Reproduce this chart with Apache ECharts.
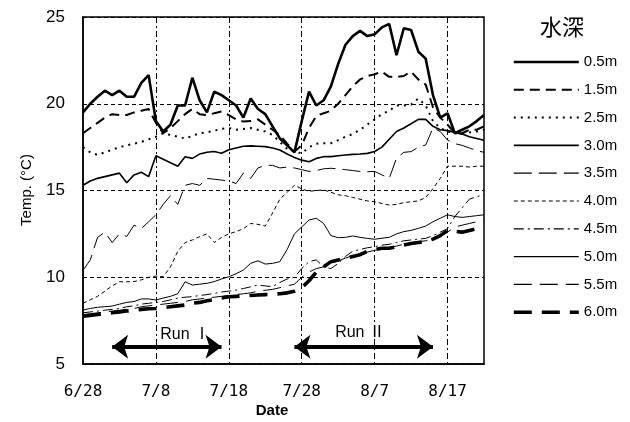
<!DOCTYPE html>
<html><head><meta charset="utf-8">
<script src="https://cdn.jsdelivr.net/npm/echarts@6/dist/echarts.min.js"></script>
<style>html,body{margin:0;padding:0;background:#fff}#c{width:630px;height:422px}</style>
</head><body><div id="c"></div>
<script>
var dates = ['6/28','6/29','6/30',
 '7/1','7/2','7/3','7/4','7/5','7/6','7/7','7/8','7/9','7/10','7/11','7/12','7/13','7/14','7/15','7/16',
 '7/17','7/18','7/19','7/20','7/21','7/22','7/23','7/24','7/25','7/26','7/27','7/28','7/29','7/30','7/31',
 '8/1','8/2','8/3','8/4','8/5','8/6','8/7','8/8','8/9','8/10','8/11','8/12','8/13','8/14','8/15','8/16',
 '8/17','8/18','8/19','8/20','8/21','8/22'];
var yTicks = [5, 10, 15, 20, 25];
var depthNames = ['0.5m','1.5m','2.5m','3.0m','3.5m','4.0m','4.5m','5.0m','5.5m','6.0m'];

var d05 = [19.5,20.0,20.4,20.75,20.5,20.75,20.4,20.4,21.2,21.65,
 19.0,18.4,18.8,19.9,19.9,21.5,20.2,19.5,20.7,20.5,
 20.2,19.9,19.2,20.3,19.7,19.4,18.7,18.0,17.6,17.2,
 19.0,20.7,19.9,20.2,21.0,22.3,23.4,23.9,24.2,23.9,
 24.0,24.4,24.6,22.8,24.35,24.25,23.0,22.6,20.5,19.2,
 19.45,18.3,18.5,18.7,19.0,19.35];
var d15 = [18.3,18.6,18.9,19.2,19.4,19.35,19.35,19.5,19.6,19.7,
 18.9,18.3,18.6,19.0,19.4,19.7,19.4,19.35,19.45,19.55,
 19.35,19.1,18.97,19.0,19.1,18.8,18.5,18.2,17.7,17.25,
 17.6,18.6,19.3,19.45,19.6,20.0,20.5,21.0,21.4,21.6,
 21.7,21.85,21.55,21.55,21.6,21.85,21.4,21.1,19.8,19.2,
 18.8,18.3,18.3,18.5,18.5,18.7];
var d25 = [17.5,17.2,17.05,17.2,17.35,17.5,17.6,17.7,17.8,17.95,
 18.1,18.3,18.2,18.1,18.0,18.15,18.3,18.35,18.45,18.55,
 18.6,18.5,18.55,18.6,18.5,18.4,18.2,17.8,17.4,17.24,
 17.14,17.5,17.7,17.72,17.72,17.9,18.1,18.25,18.5,18.8,
 19.1,19.4,19.6,19.9,19.9,19.95,20.3,19.9,19.0,18.6,
 18.4,18.3,18.3,18.35,18.4,18.5];
var d30 = [15.3,15.55,15.7,15.8,15.9,16.0,15.45,15.9,16.05,15.8,
 17.0,16.8,16.6,16.4,16.95,16.85,17.1,17.2,17.25,17.15,
 17.35,17.45,17.55,17.57,17.55,17.53,17.45,17.33,17.1,16.9,
 16.75,16.66,16.85,16.95,16.95,17.0,17.05,17.08,17.1,17.14,
 17.25,17.5,17.95,18.4,18.6,18.85,19.1,19.1,18.7,18.5,
 18.45,18.35,18.25,18.1,18.0,17.9];
var d35 = [10.4,11.0,12.3,12.6,12.0,12.5,12.35,13.0,12.8,13.2,
 13.6,14.2,14.7,14.2,15.3,15.4,15.3,15.7,15.65,15.6,
 15.55,15.4,16.0,15.7,16.3,16.45,16.45,16.3,16.35,16.3,
 16.2,16.1,16.15,16.25,16.28,16.25,16.2,16.15,16.1,16.08,
 16.1,15.9,15.7,16.86,17.2,17.24,17.5,17.62,18.6,18.4,
 17.9,17.7,17.6,17.45,17.3,17.2];
var d40 = [8.5,8.7,8.9,9.2,9.5,9.74,9.74,9.75,9.85,10.0,
 10.07,10.03,10.6,11.5,12.0,12.15,12.34,12.5,12.0,12.3,
 12.5,12.63,12.8,13.1,13.05,12.95,13.7,14.5,14.9,15.3,
 15.1,14.95,15.0,15.03,14.9,14.75,14.7,14.6,14.5,14.4,
 14.35,14.25,14.16,14.2,14.3,14.35,14.4,14.6,15.1,15.7,
 16.4,16.4,16.4,16.35,16.4,16.4];
var d45 = [7.95,8.0,8.05,8.1,8.15,8.2,8.3,8.35,8.45,8.5,
 8.55,8.6,8.7,8.8,8.85,8.88,8.95,9.0,9.07,9.15,
 9.2,9.26,9.35,9.45,9.55,9.5,9.46,9.7,9.9,10.0,
 10.5,10.9,11.0,10.6,10.5,10.8,11.2,11.5,11.6,11.7,
 11.76,11.85,11.9,12.0,12.1,12.15,12.2,12.24,12.4,12.6,
 12.8,13.5,14.0,14.5,14.65,14.75];
var d50 = [8.11,8.2,8.27,8.3,8.34,8.45,8.55,8.6,8.75,8.75,
 8.69,8.8,8.9,9.05,9.74,9.55,9.6,9.65,9.75,9.9,
 10.03,10.2,10.42,10.8,10.95,10.76,10.8,10.9,11.6,12.5,
 12.9,13.3,13.4,13.1,12.4,12.28,12.3,12.38,12.3,12.24,
 12.19,12.25,12.3,12.5,12.63,12.7,12.82,12.95,13.2,13.4,
 13.6,13.5,13.45,13.5,13.55,13.6];
var d55 = [7.85,7.9,7.95,8.0,8.05,8.1,8.15,8.2,8.3,8.35,
 8.4,8.45,8.5,8.55,8.6,8.7,8.75,8.8,8.85,8.9,
 8.95,9.0,9.05,9.1,9.2,9.25,9.3,9.4,9.5,9.6,
 10.0,10.3,10.5,10.6,10.8,10.95,11.1,11.25,11.35,11.45,
 11.55,11.65,11.7,11.8,11.9,12.0,12.05,12.1,12.2,12.35,
 12.6,12.9,13.0,13.1,13.2,13.3];
var d60 = [7.75,7.8,7.85,7.9,7.95,8.0,8.05,8.1,8.15,8.18,
 8.2,8.25,8.3,8.35,8.4,8.5,8.55,8.65,8.7,8.8,
 8.88,8.9,8.92,8.95,8.98,9.0,9.02,9.05,9.1,9.2,
 9.4,9.8,10.3,10.6,10.9,11.0,11.1,11.2,11.3,11.5,
 11.6,11.67,11.67,11.75,11.85,11.95,12.0,12.05,12.2,12.4,
 12.7,12.65,12.6,12.7,12.8,12.92];

var runArrows = [['7/2','7/17',6.0],['7/27','8/15',6.0]];
var runLabels = [['7/12',6.72,'Run Ⅰ'],['8/5',6.82,'Run Ⅱ']];

var allData = [d05,d15,d25,d30,d35,d40,d45,d50,d55,d60];
var styles = [
 {width:2.6, type:'solid'},
 {width:2, type:[10,6]},
 {width:2, type:[2,5]},
 {width:1.6, type:'solid'},
 {width:1, type:[18,7]},
 {width:1, type:[4,3]},
 {width:1, type:[10,4,2,4]},
 {width:1, type:'solid'},
 {width:1, type:[18,8]},
 {width:3.6, type:[18,10]}
];

var series = allData.map(function(d,i){
  return {
    name: depthNames[i], type:'line', data:d, symbol:'none', showSymbol:false, smooth:false,
    lineStyle:{color:'#000', width:styles[i].width, type:styles[i].type},
    itemStyle:{color:'#000'}, z: 20 - i
  };
});
series[9].markLine = {
  silent:true, symbol:['arrow','arrow'], symbolSize:[18,16],
  lineStyle:{color:'#000', width:4, type:'solid'}, label:{show:false},
  data: runArrows.map(function(r){ return [{coord:[r[0],r[2]]},{coord:[r[1],r[2]]}]; })
};
series[9].markPoint = {
  silent:true, symbol:'circle', symbolSize:1, itemStyle:{color:'rgba(0,0,0,0)'},
  label:{show:true, position:'inside', color:'#000', fontSize:16, fontFamily:'Liberation Sans, Noto Sans CJK JP',
    formatter:function(p){return p.name;}},
  data: runLabels.map(function(r){ return {name:r[2], coord:[r[0],r[1]]}; })
};

var legendItems = depthNames.map(function(n,i){
  return {name:n, lineStyle:{width:Math.max(styles[i].width, 1.2), type:styles[i].type, color:'#000'}};
});

var chart = echarts.init(document.getElementById('c'), null, {renderer:'canvas'});
chart.setOption({
  animation:false,
  backgroundColor:'#fff',
  grid:{left:83, right:146, top:17, bottom:58, show:true, borderColor:'#000', borderWidth:1.5},
  xAxis:{type:'category', data:dates, boundaryGap:false,
    axisLine:{lineStyle:{color:'#000', width:1.5}}, axisTick:{show:false},
    axisLabel:{interval:9, color:'#000', fontSize:16, fontFamily:'DejaVu Sans Mono', margin:20},
    splitLine:{show:true, interval:function(i){return i%10===0 && i>0;}, lineStyle:{color:'#000', width:1, type:[6,3,2,3]}}
  },
  yAxis:{type:'value', min:yTicks[0], max:yTicks[yTicks.length-1], interval:5,
    axisLine:{show:true, lineStyle:{color:'#000', width:1.5}}, axisTick:{show:false},
    axisLabel:{color:'#000', fontSize:17, fontFamily:'Liberation Sans', margin:18},
    splitLine:{show:true, lineStyle:{color:'#000', width:1, type:[4,3]}}
  },
  legend:{orient:'vertical', left:507, top:49, itemWidth:65, itemHeight:16, itemGap:11.8,
    itemStyle:{opacity:0, borderWidth:0},
    data:legendItems, textStyle:{color:'#000', fontSize:15, fontFamily:'Liberation Sans', lineHeight:16}},
  graphic:[
    {type:'text', left:540, top:16, style:{text:'水深', font:'22px "Noto Sans CJK JP"', fill:'#000'}},
    {type:'text', x:272, y:411, style:{text:'Date', font:'bold 15px "Liberation Sans"', fill:'#000', textAlign:'center', textVerticalAlign:'middle'}},
    {type:'text', x:27, y:190, rotation:Math.PI/2, style:{text:'Temp. (°C)', font:'15px "Liberation Sans"', fill:'#000', textAlign:'center', textVerticalAlign:'middle'}}
  ],
  series:series
});
</script></body></html>
